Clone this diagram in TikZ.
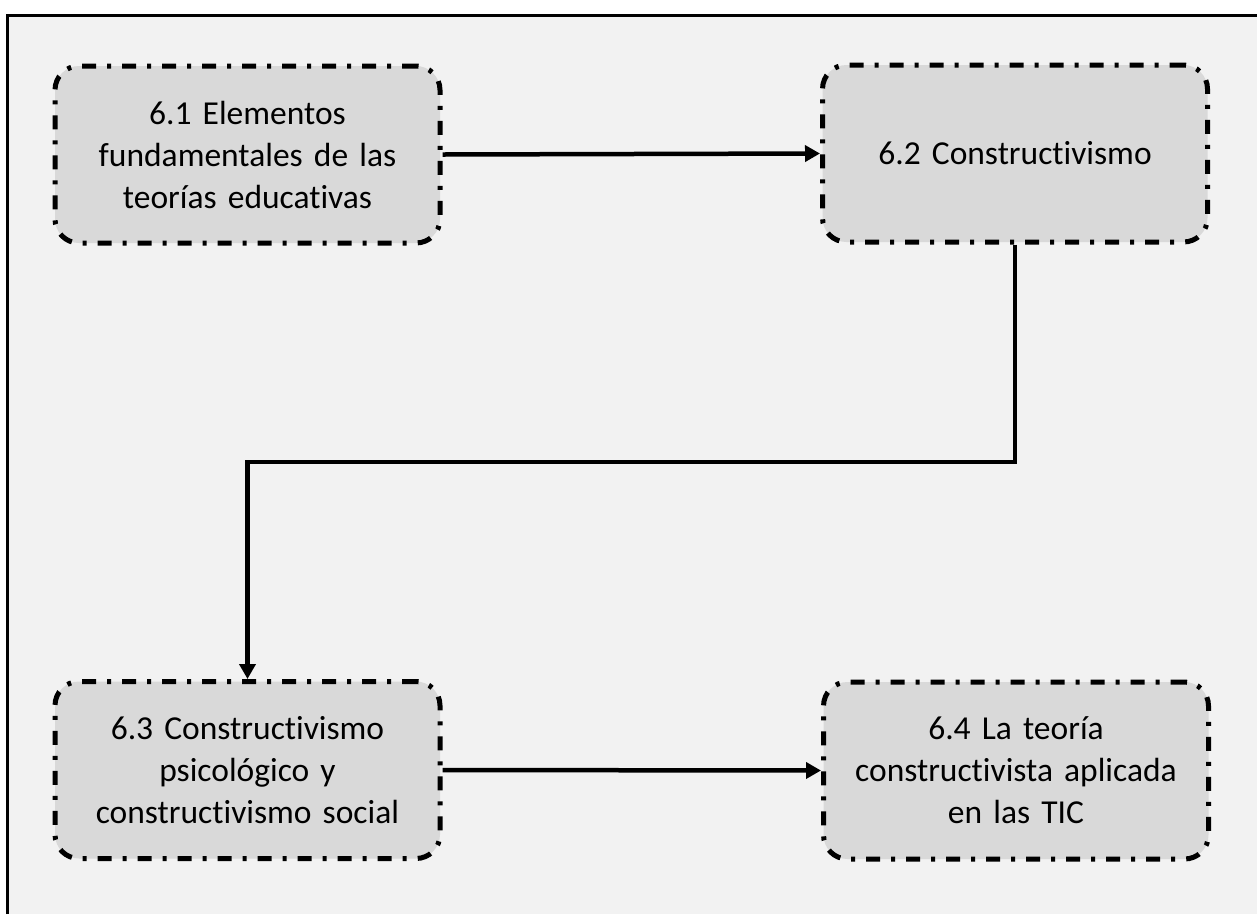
\documentclass[tikz,border=0pt]{standalone}
\usepackage{fontspec}
\setmainfont{Carlito}[RawFeature={-liga;-clig}, WordSpace=0.8]
\usetikzlibrary{arrows.meta}
\definecolor{pagebg}{HTML}{F2F2F2}
\definecolor{boxfill}{HTML}{D9D9D9}
\tikzset{
  topic/.style={draw=black, fill=boxfill, line width=5pt, rounded corners=24pt,
    dash pattern=on 14pt off 11pt on 4pt off 11pt,
    minimum width=385pt, minimum height=177pt, inner sep=0pt,
    align=center, text width=370pt,
    font=\fontsize{33.5}{42}\selectfont},
  link/.style={draw=black, line width=4.5pt,
    -{Triangle[length=15pt,width=16pt]}}
}
\begin{document}
\begin{tikzpicture}[x=1pt,y=-1pt]
  \useasboundingbox (0,0) rectangle (1257,914);
  % framed backdrop, open to the right and bottom
  \fill[pagebg] (7,15) rectangle (1257,914);
  \draw[line width=3pt] (7,914) -- (7,15) -- (1257,15);

  \node[topic] (b1) at (247.5,154.5) {6.1 Elementos\\fundamentales de las\\teorías educativas};
  \node[topic] (b2) at (1015,153.5) {6.2 Constructivismo};
  \node[topic] (b3) at (247.5,770) {6.3 Constructivismo\\psicológico y\\constructivismo social};
  \node[topic] (b4) at (1016,770.5) {6.4 La teoría\\constructivista aplicada\\en las TIC};

  \coordinate (turn) at (1015,462);
  \draw[link] (b1.east) -- (b2.west);
  \draw[link] (b2.south) -- (turn) -| (b3.north);
  \draw[link] (b3.east) -- (b4.west);
\end{tikzpicture}
\end{document}
